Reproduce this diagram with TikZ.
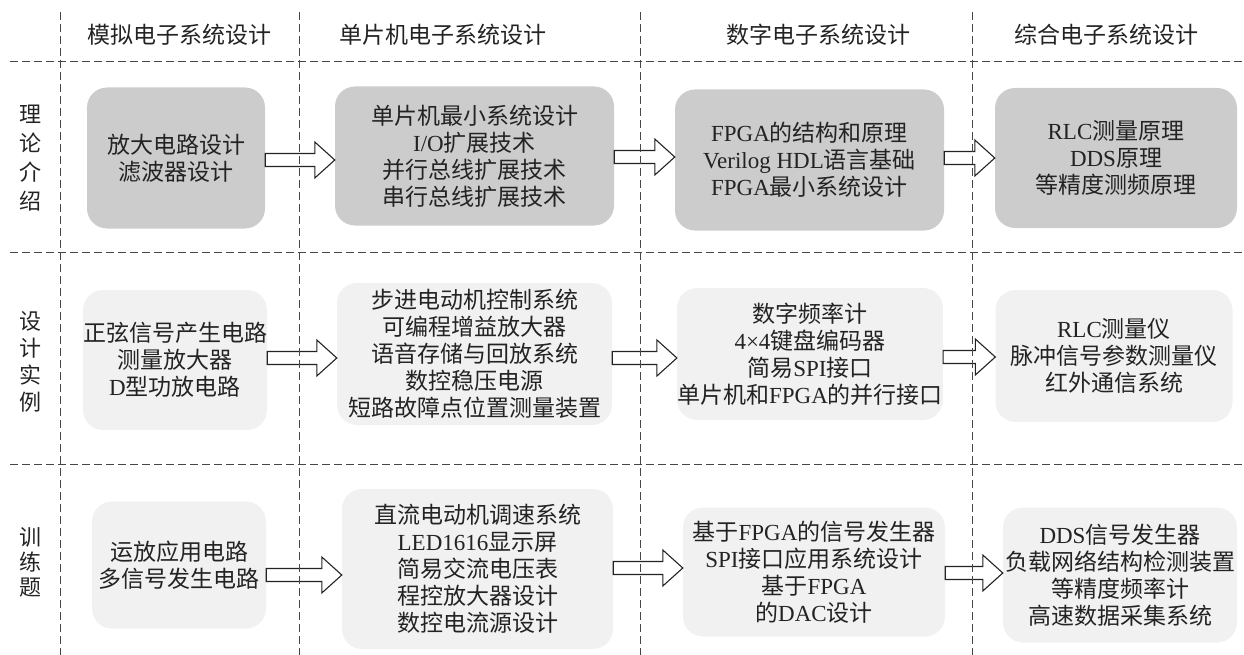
\documentclass[tikz,border=0pt]{standalone}
\usepackage{fontspec}
\setmainfont{Noto Sans CJK SC}
\newfontfamily\latf{Liberation Serif}
\newcommand\lt[1]{{\latf #1}}
\usetikzlibrary{calc}
\definecolor{dk}{RGB}{35,35,35}
\definecolor{gA}{RGB}{204,204,204}
\definecolor{gB}{RGB}{241,241,241}
\definecolor{ln}{RGB}{70,70,70}
\tikzset{
  gridln/.style={draw=ln, line width=1pt, dash pattern=on 8pt off 4pt},
  box/.style={rounded corners=20pt, align=center, inner sep=0pt, text=dk, font=\fontsize{23}{27}\selectfont},
  dark/.style={box, fill=gA},
  light/.style={box, fill=gB},
  hdr/.style={text=dk, font=\fontsize{23}{27}\selectfont},
  rowlab/.style={text=dk, align=center},
  barr/.style={draw=dk, fill=white, line width=1.1pt, line join=miter},
}
\newcommand\barrow[3]{\draw[barr] let \p1=(#1.east), \p2=(#2.west), \p3=(0,#3) in
  (\x1,\y3+6.5pt) -- (\x2-20pt,\y3+6.5pt) -- (\x2-20pt,\y3+18pt) -- (\x2,\y3) --
  (\x2-20pt,\y3-18pt) -- (\x2-20pt,\y3-6.5pt) -- (\x1,\y3-6.5pt) -- cycle;}
\begin{document}
\begin{tikzpicture}[x=1pt,y=-1pt]
\useasboundingbox (0,0) rectangle (1244,655);
% headers
\node[hdr] (h1) at (179,35) {模拟电子系统设计};
\node[hdr] (h2) at (443,35) {单片机电子系统设计};
\node[hdr] (h3) at (818,35) {数字电子系统设计};
\node[hdr] (h4) at (1106,35) {综合电子系统设计};
% row labels
\node[rowlab, font=\fontsize{22}{29}\selectfont] (r1) at (30,158) {理\\论\\介\\绍};
\node[rowlab, font=\fontsize{22}{27}\selectfont] (r2) at (30,362) {设\\计\\实\\例};
\node[rowlab, font=\fontsize{22}{25}\selectfont] (r3) at (30,562) {训\\练\\题};
% row 1
\node[dark, minimum width=178, minimum height=141] (b11) at (176,158) {放大电路设计\\滤波器设计};
\node[dark, minimum width=279, minimum height=139] (b12) at (474.5,156) {单片机最小系统设计\\\lt{I/O}扩展技术\\并行总线扩展技术\\串行总线扩展技术};
\node[dark, minimum width=269, minimum height=141] (b13) at (809.5,160) {\lt{FPGA}的结构和原理\\\lt{Verilog HDL}语言基础\\\lt{FPGA}最小系统设计};
\node[dark, minimum width=242, minimum height=140] (b14) at (1116,158) {\lt{RLC}测量原理\\\lt{DDS}原理\\等精度测频原理};
% row 2
\node[light, minimum width=170, minimum height=140] (b21) at (175,360) {正弦信号产生电路\\测量放大器\\\lt{D}型功放电路};
\node[light, minimum width=275, minimum height=142] (b22) at (474.5,354) {步进电动机控制系统\\可编程增益放大器\\语音存储与回放系统\\数控稳压电源\\短路故障点位置测量装置};
\node[light, minimum width=260, minimum height=132] (b23) at (810,354) {数字频率计\\\lt{4×4}键盘编码器\\简易\lt{SPI}接口\\单片机和\lt{FPGA}的并行接口};
\node[light, minimum width=237, minimum height=132] (b24) at (1114,356) {\lt{RLC}测量仪\\脉冲信号参数测量仪\\红外通信系统};
% row 3
\node[light, minimum width=174, minimum height=127] (b31) at (179,565) {运放应用电路\\多信号发生电路};
\node[light, minimum width=271, minimum height=160] (b32) at (477.5,569) {直流电动机调速系统\\\lt{LED1616}显示屏\\简易交流电压表\\程控放大器设计\\数控电流源设计};
\node[light, minimum width=262, minimum height=129] (b33) at (814,572) {基于\lt{FPGA}的信号发生器\\\lt{SPI}接口应用系统设计\\基于\lt{FPGA}\\的\lt{DAC}设计};
\node[light, minimum width=234, minimum height=135] (b34) at (1120,575) {\lt{DDS}信号发生器\\负载网络结构检测装置\\等精度频率计\\高速数据采集系统};
% arrows
\barrow{b11}{b12}{160}
\barrow{b12}{b13}{157}
\barrow{b13}{b14}{158}
\barrow{b21}{b22}{358}
\barrow{b22}{b23}{358}
\barrow{b23}{b24}{357}
\barrow{b31}{b32}{575}
\barrow{b32}{b33}{568}
\barrow{b33}{b34}{573}
% grid
\foreach \gx in {60,299,640,972} \draw[gridln] (\gx,12) -- (\gx,655);
\foreach \gy in {62,252,464} \draw[gridln] (10,\gy) -- (1242,\gy);
\end{tikzpicture}
\end{document}
